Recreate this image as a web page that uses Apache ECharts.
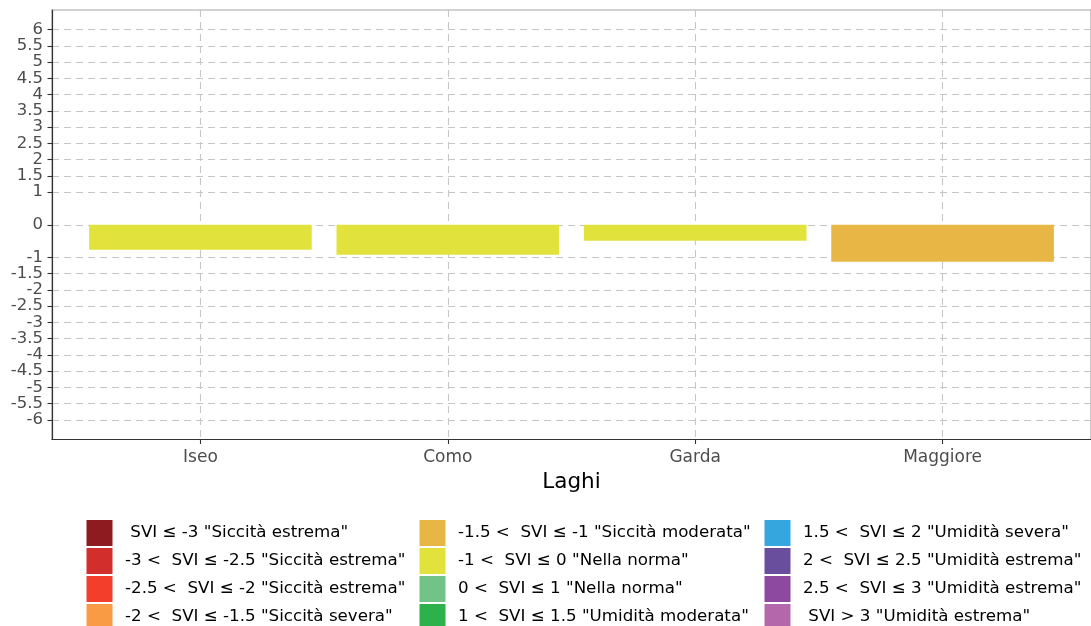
<!DOCTYPE html>
<html>
<head>
<meta charset="utf-8">
<script src="https://cdn.jsdelivr.net/npm/echarts@6/dist/echarts.min.js"></script>
<style>
  html, body { margin: 0; padding: 0; background: #ffffff; }
  #chart { width: 1091px; height: 626px; }
</style>
</head>
<body>
<div id="chart"></div>
<script>
// ---- data ----
const categories = ['Iseo', 'Como', 'Garda', 'Maggiore'];
const sviValues = [-0.77, -0.92, -0.49, -1.14];

const yTickValues = [-6, -5.5, -5, -4.5, -4, -3.5, -3, -2.5, -2, -1.5, -1, 0, 1, 1.5, 2, 2.5, 3, 3.5, 4, 4.5, 5, 5.5, 6];

// class upper bounds (SVI <= bound), last class is open-ended
const classUpper = [-3, -2.5, -2, -1.5, -1, 0, 1, 1.5, 2, 2.5, 3, Infinity];
const classColors = ['#8E1B1F', '#D12E2C', '#F23F2C', '#F99A45', '#E8B645', '#E1E33C',
                     '#72C387', '#2DB24B', '#35A7DE', '#6A4E9E', '#8C499F', '#B467AA'];
const classLabels = [
  ' SVI ≤ -3 "Siccità estrema"',
  '-3 <  SVI ≤ -2.5 "Siccità estrema"',
  '-2.5 <  SVI ≤ -2 "Siccità estrema"',
  '-2 <  SVI ≤ -1.5 "Siccità severa"',
  '-1.5 <  SVI ≤ -1 "Siccità moderata"',
  '-1 <  SVI ≤ 0 "Nella norma"',
  '0 <  SVI ≤ 1 "Nella norma"',
  '1 <  SVI ≤ 1.5 "Umidità moderata"',
  '1.5 <  SVI ≤ 2 "Umidità severa"',
  '2 <  SVI ≤ 2.5 "Umidità estrema"',
  '2.5 <  SVI ≤ 3 "Umidità estrema"',
  ' SVI > 3 "Umidità estrema"'
];

// ---- helpers ----
function classColor(v) {
  for (let i = 0; i < classUpper.length; i++) {
    if (v <= classUpper[i]) return classColors[i];
  }
  return classColors[classColors.length - 1];
}
const PAD = 0.6; // discrete-axis expansion (in category units)
const catPos = categories.map((c, i) => i + PAD);
// split y ticks into two interleaved sets so neighbouring labels never collide
const yTicksWhole = yTickValues.filter(v => Number.isInteger(v));
const yTicksHalf = yTickValues.filter(v => !Number.isInteger(v));

const FONT = 'DejaVu Sans';

const barData = sviValues.map((v, i) => ({
  value: [catPos[i], v],
  itemStyle: { color: classColor(v) }
}));

const legendSeries = classLabels.map((lab, i) => ({
  name: lab,
  type: 'line',
  data: [],
  itemStyle: { color: classColors[i] },
  lineStyle: { color: classColors[i] }
}));

function legendCol(idx, left) {
  return {
    orient: 'vertical',
    left: left,
    top: 520,
    height: 140,
    padding: 0,
    itemWidth: 26,
    itemHeight: 26,
    itemGap: 2,
    selectedMode: false,
    data: classLabels.slice(idx * 4, idx * 4 + 4).map(n => ({ name: n, icon: 'rect' })),
    textStyle: { fontFamily: FONT, fontSize: 16.7, color: '#000000', padding: [0, 0, 0, 7.5] }
  };
}

const gridLine = { show: true, lineStyle: { color: '#c6c6c6', width: 1.1, type: [7, 5] } };

function yAxisDef(ticks, showLine) {
  return {
    type: 'value',
    position: 'left',
    offset: 0,
    min: -6.6,
    max: 6.6,
    axisLine: { show: showLine, onZero: false, lineStyle: { color: '#333333', width: 1.2 } },
    axisTick: { show: true, length: 4.5, lineStyle: { color: '#333333', width: 1.1 }, customValues: ticks },
    axisLabel: {
      customValues: ticks,
      showMinLabel: true, showMaxLabel: true,
      hideOverlap: false,
      margin: 9,
      padding: [4, 0, 0, 0],
      fontFamily: FONT, fontSize: 16.5, color: '#4d4d4d',
      formatter: function (v) { return String(v); }
    },
    splitLine: gridLine
  };
}

const chart = echarts.init(document.getElementById('chart'), null, { renderer: 'canvas' });
chart.setOption({
  animation: false,
  backgroundColor: '#ffffff',
  grid: {
    left: 52, right: -11, top: 10, bottom: 186.5,
    show: true, borderColor: '#a6a6a6', borderWidth: 1.2, backgroundColor: '#ffffff'
  },
  legend: [legendCol(0, 86.5), legendCol(1, 419.5), legendCol(2, 764.5)],
  xAxis: {
    type: 'value',
    min: 0,
    max: categories.length - 1 + 2 * PAD,
    name: 'Laghi',
    nameLocation: 'middle',
    nameGap: 32,
    nameTextStyle: { fontFamily: FONT, fontSize: 21.5, color: '#000000' },
    axisLine: { show: true, onZero: false, lineStyle: { color: '#333333', width: 1.2 } },
    axisTick: { show: true, length: 4.5, lineStyle: { color: '#333333', width: 1.1 }, customValues: catPos },
    axisLabel: {
      customValues: catPos,
      showMinLabel: true, showMaxLabel: true,
      margin: 10,
      fontFamily: FONT, fontSize: 17, color: '#4d4d4d',
      formatter: function (v) {
        const i = Math.round(v - PAD);
        return categories[i] !== undefined ? categories[i] : '';
      }
    },
    splitLine: gridLine
  },
  yAxis: [yAxisDef(yTicksWhole, true), yAxisDef(yTicksHalf, false)],
  series: [
    {
      type: 'bar',
      barWidth: '90%',
      xAxisIndex: 0,
      yAxisIndex: 0,
      data: barData,
      z: 3
    }
  ].concat(legendSeries)
});
</script>
</body>
</html>
